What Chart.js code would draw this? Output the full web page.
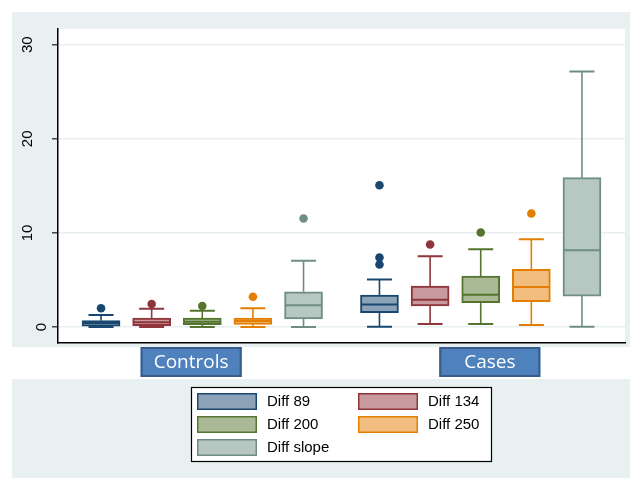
<!DOCTYPE html>
<html>
<head>
<meta charset="utf-8">
<script src="https://cdn.jsdelivr.net/npm/chart.js@4.4.1/dist/chart.umd.min.js"></script>
<style>
  html, body { margin: 0; padding: 0; background: #fff; }
  canvas { display: block; }
</style>
</head>
<body>
<canvas id="myChart" width="630" height="478"></canvas>
<script>
// data
const groups = ["Controls", "Cases"];
const seriesNames = ["Diff 89", "Diff 134", "Diff 200", "Diff 250", "Diff slope"];
const yTicks = [0, 10, 20, 30];

const controlsMin = [0, 0, 0, 0, 0];
const controlsQ1 = [0.10, 0.14, 0.25, 0.28, 0.85];
const controlsMedian = [0.43, 0.50, 0.56, 0.64, 2.30];
const controlsQ3 = [0.67, 0.96, 0.96, 0.96, 3.75];
const controlsMax = [1.28, 1.95, 1.73, 1.98, 7.05];
const controlsOutliers = [[1.99], [2.45], [2.23], [3.22], [11.53]];

const casesMin = [0.03, 0.32, 0.32, 0.21, 0.03];
const casesQ1 = [1.52, 2.23, 2.58, 2.68, 3.29];
const casesMedian = [2.40, 2.90, 3.43, 4.24, 8.17];
const casesQ3 = [3.39, 4.35, 5.41, 6.12, 15.87];
const casesMax = [5.06, 7.53, 8.27, 9.33, 27.15];
const casesOutliers = [[15.06, 7.39, 6.65], [8.77], [10.04], [12.06], []];

const lineColors = ["#1A476F", "#90353B", "#55752F", "#E37E00", "#6E8E84"];
const fillColors = ["#8DA3B7", "#C79A9D", "#AABA97", "#F1BE80", "#B7C7C1"];

// first box of each group sits at this x, group label centre at labelAt
const stats = [
  { name: groups[0], start: 1, labelAt: 2.78, min: controlsMin, q1: controlsQ1, med: controlsMedian, q3: controlsQ3, max: controlsMax, out: controlsOutliers },
  { name: groups[1], start: 6.5, labelAt: 8.68, min: casesMin, q1: casesQ1, med: casesMedian, q3: casesQ3, max: casesMax, out: casesOutliers }
];

const BOX_W = 38;
const CAP_W = 25;

let datasets = [];
seriesNames.forEach((name, i) => {
  datasets.push({
    type: "bar",
    label: name,
    data: stats.map((g) => ({ x: g.start + i, y: [g.q1[i], g.q3[i]] })),
    backgroundColor: fillColors[i],
    borderColor: lineColors[i],
    borderWidth: 2,
    borderSkipped: false,
    barThickness: BOX_W,
    grouped: false,
    order: 2,
  });
});
seriesNames.forEach((name, i) => {
  let pts = [];
  stats.forEach((g) => {
    g.out[i].forEach((v) => pts.push({ x: g.start + i, y: v }));
  });
  datasets.push({
    type: "scatter",
    label: name + " outliers",
    data: pts,
    pointRadius: 4.3,
    pointBackgroundColor: lineColors[i],
    pointBorderWidth: 0,
    order: 1,
  });
});

const background = {
  id: "background",
  beforeDraw(chart) {
    const c = chart.ctx;
    const a = chart.chartArea;
    c.save();
    c.fillStyle = "#fff";
    c.fillRect(0, 0, chart.width, chart.height);
    c.fillStyle = "#E9F0F2";
    c.fillRect(12, 12, chart.width - 12, a.bottom + 4 - 12);
    c.fillRect(12, a.bottom + 36, chart.width - 12, chart.height - a.bottom - 36);
    c.fillStyle = "#fff";
    c.fillRect(a.left, a.top, a.right - a.left, a.bottom - a.top);
    c.restore();
  },
};

const boxParts = {
  id: "boxParts",
  afterDatasetsDraw(chart) {
    const c = chart.ctx;
    const xs = chart.scales.x;
    const ys = chart.scales.y;
    c.save();
    seriesNames.forEach((name, i) => {
      c.strokeStyle = lineColors[i];
      stats.forEach((g) => {
        const px = xs.getPixelForValue(g.start + i);
        // whiskers
        c.lineWidth = 1.6;
        c.beginPath();
        c.moveTo(px, ys.getPixelForValue(g.q3[i]));
        c.lineTo(px, ys.getPixelForValue(g.max[i]));
        c.moveTo(px, ys.getPixelForValue(g.q1[i]));
        c.lineTo(px, ys.getPixelForValue(g.min[i]));
        c.stroke();
        c.lineWidth = 2;
        c.beginPath();
        c.moveTo(px - CAP_W / 2, ys.getPixelForValue(g.max[i]));
        c.lineTo(px + CAP_W / 2, ys.getPixelForValue(g.max[i]));
        c.moveTo(px - CAP_W / 2, ys.getPixelForValue(g.min[i]));
        c.lineTo(px + CAP_W / 2, ys.getPixelForValue(g.min[i]));
        c.stroke();
        // median
        c.lineWidth = 2;
        c.beginPath();
        c.moveTo(px - BOX_W / 2 + 1, ys.getPixelForValue(g.med[i]));
        c.lineTo(px + BOX_W / 2 - 1, ys.getPixelForValue(g.med[i]));
        c.stroke();
      });
    });
    c.restore();
  },
};

const labelsAndLegend = {
  id: "labelsAndLegend",
  afterDraw(chart) {
    const c = chart.ctx;
    const a = chart.chartArea;
    const xs = chart.scales.x;
    const ys = chart.scales.y;
    c.save();

    // rotated y tick labels
    c.fillStyle = "#000";
    c.font = "15px 'Liberation Sans', Arial, sans-serif";
    c.textAlign = "center";
    c.textBaseline = "middle";
    yTicks.forEach((t) => {
      const s = String(t);
      const cx = a.left - 4 - 13.5 * s.length;
      c.save();
      c.translate(cx, ys.getPixelForValue(t));
      c.rotate(-Math.PI / 2);
      c.fillText(s, 0, 1);
      c.restore();
    });

    // group labels under the plot
    stats.forEach((g) => {
      const cx = xs.getPixelForValue(g.labelAt);
      const w = 101, h = 30, top = a.bottom + 4;
      c.fillStyle = "#4F81BD";
      c.fillRect(cx - w / 2, top, w, h);
      c.strokeStyle = "#385D8A";
      c.lineWidth = 2;
      c.strokeRect(cx - w / 2 + 1, top + 1, w - 2, h - 2);
      c.fillStyle = "#fff";
      c.font = "19px 'Open Sans', sans-serif";
      c.textAlign = "center";
      c.textBaseline = "middle";
      c.fillText(g.name, cx, top + h / 2 + 1);
    });

    // legend
    const lx = 191, ly = 387, lw = 301, lh = 75;
    c.fillStyle = "#fff";
    c.fillRect(lx, ly, lw, lh);
    c.strokeStyle = "#000";
    c.lineWidth = 1.2;
    c.strokeRect(lx + 0.5, ly + 0.5, lw - 1, lh - 1);
    c.font = "15px 'Liberation Sans', Arial, sans-serif";
    c.textAlign = "left";
    c.textBaseline = "middle";
    seriesNames.forEach((name, i) => {
      const col = i % 2, row = Math.floor(i / 2);
      const sx = lx + 6 + col * 161;
      const sy = ly + 6 + row * 23;
      c.fillStyle = fillColors[i];
      c.fillRect(sx, sy, 60, 17);
      c.strokeStyle = lineColors[i];
      c.lineWidth = 1.5;
      c.strokeRect(sx + 0.75, sy + 0.75, 58.5, 15.5);
      c.fillStyle = "#000";
      c.fillText(name, sx + 70, sy + 9);
    });
    c.restore();
  },
};

var ctx = document.getElementById("myChart").getContext("2d");
var myChart = new Chart(ctx, {
  type: "bar",
  data: { datasets: datasets },
  plugins: [background, boxParts, labelsAndLegend],
  options: {
    responsive: false,
    animation: false,
    devicePixelRatio: 1,
    layout: { padding: { left: 0, right: 5, top: 29, bottom: 135 } },
    plugins: {
      legend: { display: false },
      tooltip: { enabled: false },
    },
    scales: {
      x: {
        type: "linear",
        offset: false,
        min: 0.15,
        max: 11.35,
        ticks: { display: false },
        grid: { display: false, offset: false },
        border: { display: true, color: "#000", width: 1.5 },
        afterFit: (scale) => { scale.height = 0; },
      },
      y: {
        min: -1.7,
        max: 31.67,
        afterBuildTicks: (scale) => { scale.ticks = yTicks.map((v) => ({ value: v })); },
        ticks: { display: false },
        grid: { color: "#E8EFF1", lineWidth: 1.5, tickColor: "#444", tickLength: 6, drawTicks: true },
        border: { display: true, color: "#000", width: 1.5 },
        afterFit: (scale) => { scale.width = 58; },
      },
    },
  },
});
</script>
</body>
</html>
